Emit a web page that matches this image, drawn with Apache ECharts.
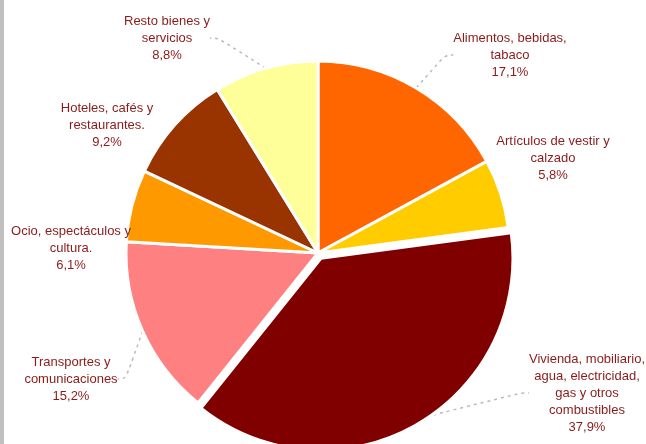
<!DOCTYPE html>
<html><head><meta charset="utf-8">
<script src="https://cdn.jsdelivr.net/npm/echarts@6/dist/echarts.min.js"></script>
<style>html,body{margin:0;padding:0;background:#fff}#c{width:646px;height:444px}</style>
</head><body><div id="c"></div>
<script>
const categories = [
  "Alimentos, bebidas,\ntabaco",
  "Artículos de vestir y\ncalzado",
  "Vivienda, mobiliario,\nagua, electricidad,\ngas y otros\ncombustibles",
  "Transportes y\ncomunicaciones",
  "Ocio, espectáculos y\ncultura.",
  "Hoteles, cafés y\nrestaurantes.",
  "Resto bienes y\nservicios"
];
const values = [17.1, 5.8, 37.9, 15.2, 6.1, 9.2, 8.8];
const colors = ["#FF6600", "#FFCC00", "#800000", "#FF8080", "#FF9900", "#993300", "#FFFF99"];
// label layout (text block centres) and whether a leader line shows
const labelPos = [[510, 55], [553, 158], [587, 393], [71, 379], [71, 248], [107, 125], [167, 38]];
const showLine = [true, false, true, true, false, false, true];
const explodedIndex = 2;
const explodeDist = 6;

const C = [318, 253], R = 192;
const total = values.reduce((a, b) => a + b, 0);
const before = values.slice(0, explodedIndex).reduce((a, b) => a + b, 0);
const midAngle = (before + values[explodedIndex] / 2) / total * 2 * Math.PI;
const C2 = [C[0] + explodeDist * Math.sin(midAngle), C[1] - explodeDist * Math.cos(midAngle)];

const chart = echarts.init(document.getElementById('c'));
const common = {
  type: 'pie', radius: R, startAngle: 90, clockwise: true,
  emphasis: {disabled: true}, silent: true,
  itemStyle: {borderColor: '#fff', borderWidth: 3}
};
chart.setOption({
  animation: false,
  graphic: [{type: 'rect', shape: {x: 0, y: 0, width: 4, height: 444}, style: {fill: '#c0c0c0'}}],
  series: [Object.assign({}, common, {
    center: C,
    label: {
      show: true,
      position: 'outside',
      color: '#8B1A1A',
      fontFamily: 'Liberation Sans, Arial, sans-serif',
      fontSize: 13,
      lineHeight: 17,
      overflow: 'none',
      align: 'center',
      formatter: p => p.name + '\n' + p.value.toFixed(1).replace('.', ',') + '%'
    },
    labelLine: {show: true, smooth: 0.4, length: 12, length2: 8, lineStyle: {color: '#bbbbbb', type: [3, 4], width: 1.5}},
    labelLayout: p => ({x: labelPos[p.dataIndex][0], y: labelPos[p.dataIndex][1], align: 'center', verticalAlign: 'middle'}),
    data: categories.map((n, i) => ({
      name: n, value: values[i],
      itemStyle: i === explodedIndex ? {color: 'rgba(0,0,0,0)', borderColor: 'rgba(0,0,0,0)'} : {color: colors[i]},
      labelLine: {show: showLine[i]}
    }))
  }), Object.assign({}, common, {
    center: C2,
    label: {show: false}, labelLine: {show: false},
    data: categories.map((n, i) => ({
      name: n, value: values[i],
      itemStyle: i === explodedIndex ? {color: colors[i]} : {color: 'rgba(0,0,0,0)', borderColor: 'rgba(0,0,0,0)'}
    }))
  })]
});
</script></body></html>
